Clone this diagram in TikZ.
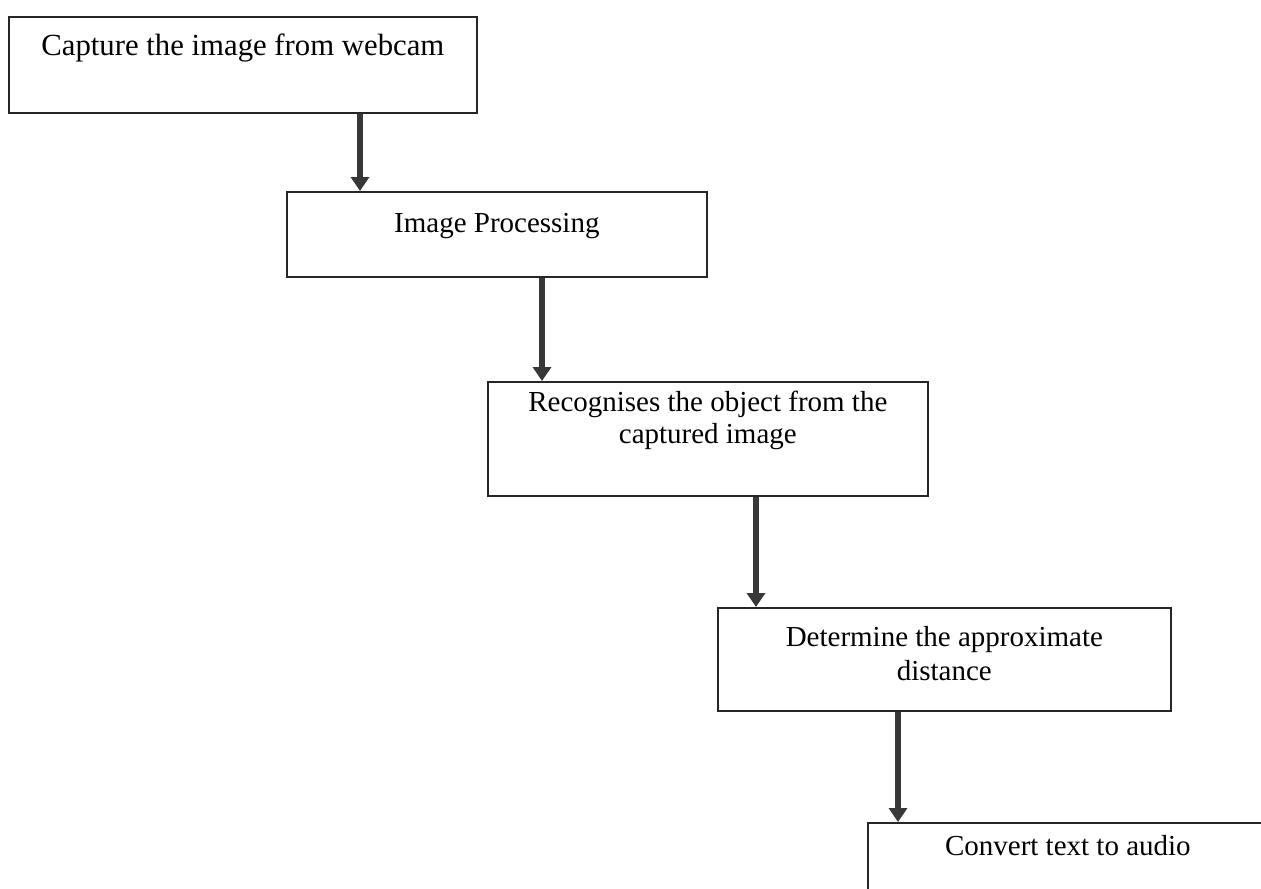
\documentclass[tikz,border=0pt]{standalone}
\usepackage{fontspec}
\setmainfont{Liberation Serif}
\usetikzlibrary{arrows.meta, calc}
\tikzset{
    flowchart/.style={x=0.02cm, y=-0.02cm, font=\fontsize{16.5}{18}\selectfont},
    stepbox/.style={draw=black!85, line width=1pt, align=center, inner sep=0pt, anchor=north west},
    flow/.style={-{Triangle[width=0.36cm, length=0.28cm]}, line width=0.13cm, draw=black!78},
}

\begin{document}
\begin{tikzpicture}[flowchart]
        \useasboundingbox (0,0) rectangle (1261,889);
        \clip (0,0) rectangle (1261,889);

        \node[stepbox, minimum width=9.36cm, minimum height=1.92cm, text height=0.42cm, text depth=0.78cm,
              font=\fontsize{17.5}{20}\selectfont] (capture) at (8,16) {Capture the image from webcam};
        \node[stepbox, minimum width=8.4cm, minimum height=1.7cm, text height=0.41cm, text depth=0.5cm] (process) at (286,191) {Image Processing};
        \node[stepbox, minimum width=8.8cm, minimum height=2.28cm, text height=1.08cm, text depth=0.9cm] (recog) at (487,381) {Recognises the object from the\\captured image};
        \node[stepbox, minimum width=9.06cm, minimum height=2.06cm, text height=1.08cm, text depth=0.22cm,
              font=\fontsize{16.5}{19.5}\selectfont] (dist) at (717,607) {Determine the approximate\\distance};
        \node[stepbox, minimum width=8cm, minimum height=1.56cm, text height=0.41cm, text depth=0.65cm] (audio) at (867,822) {Convert text to audio};

        % where the arrows leave the boxes
        \coordinate (a1) at (360,0);
        \coordinate (a2) at (542,0);
        \coordinate (a3) at (756,0);
        \coordinate (a4) at (898,0);

        \draw[flow] (capture.south -| a1) -- (process.north -| a1);
        \draw[flow] (process.south -| a2) -- (recog.north -| a2);
        \draw[flow] (recog.south -| a3) -- (dist.north -| a3);
        \draw[flow] (dist.south -| a4) -- (audio.north -| a4);
    \end{tikzpicture}
\end{document}
